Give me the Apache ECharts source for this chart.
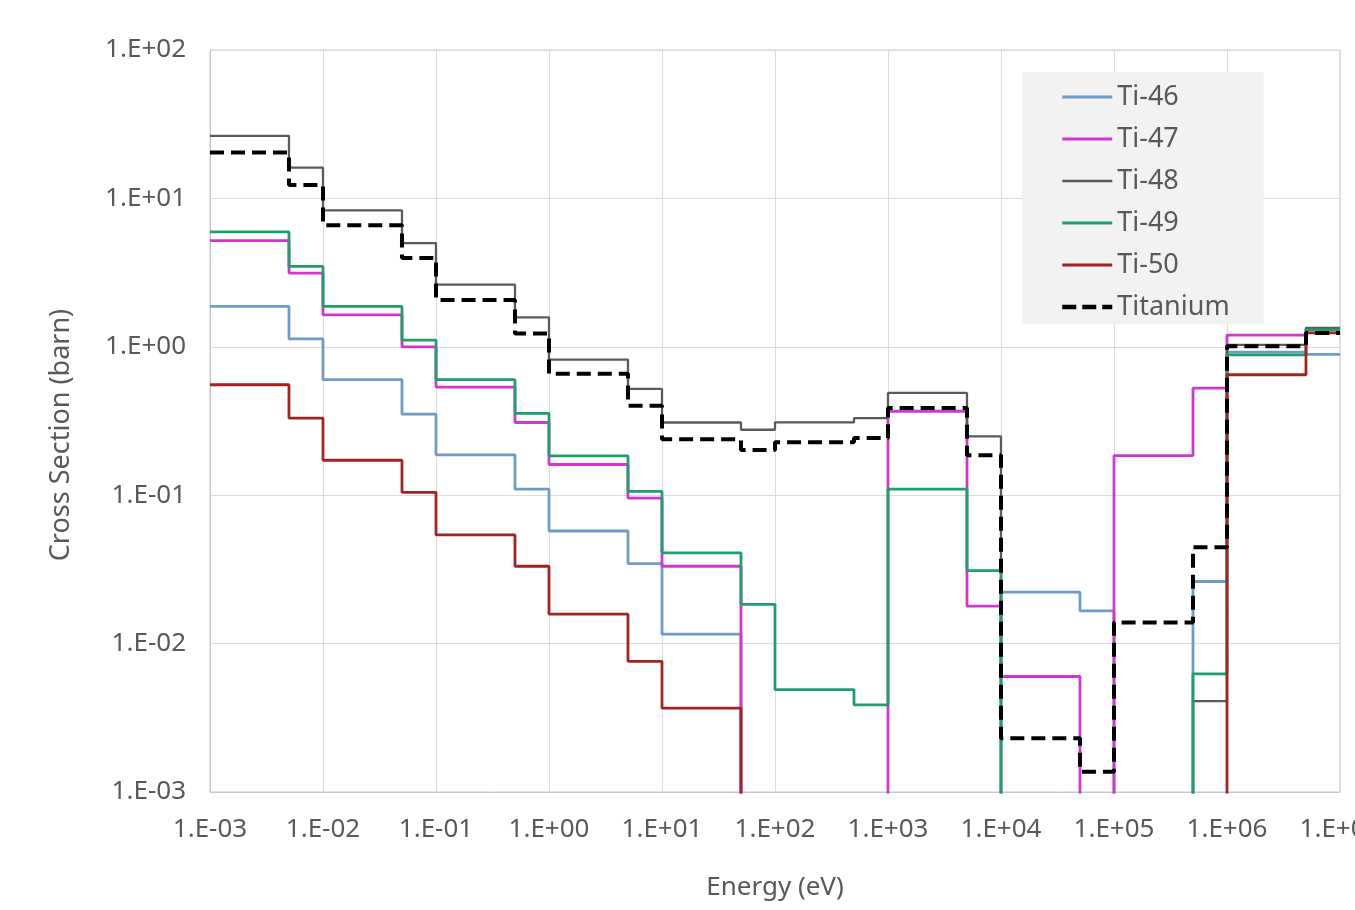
<!DOCTYPE html>
<html>
<head>
<meta charset="utf-8">
<script src="https://cdn.jsdelivr.net/npm/echarts@6/dist/echarts.min.js"></script>
<style>
  html, body { margin: 0; padding: 0; background: #ffffff; }
  #chart { width: 1355px; height: 910px; }
</style>
</head>
<body>
<div id="chart"></div>
<script>
// Energy group boundaries (eV), 20 groups
const energyEdges = [1e-3, 5e-3, 1e-2, 5e-2, 1e-1, 5e-1, 1, 5, 10, 50, 100, 500, 1e3, 5e3, 1e4, 5e4, 1e5, 5e5, 1e6, 5e6, 1e7];

// Group cross sections (barn); 1e-5 marks values below the plotted range
const ti46 = [1.87, 1.13, 0.60, 0.352, 0.187, 0.110, 0.0574, 0.0346, 0.0116, 1e-5, 1e-5, 1e-5, 1e-5, 1e-5, 0.0222, 0.0166, 1e-5, 0.0262, 0.92, 0.89];
const ti47 = [5.2, 3.14, 1.64, 1.0, 0.535, 0.309, 0.161, 0.0957, 0.0332, 1e-5, 1e-5, 1e-5, 0.368, 0.0179, 0.0060, 1e-5, 0.185, 0.526, 1.20, 1.32];
const ti48 = [26.4, 16.1, 8.3, 5.0, 2.62, 1.58, 0.82, 0.52, 0.309, 0.276, 0.31, 0.331, 0.489, 0.249, 1e-5, 1e-5, 1e-5, 0.0041, 1.03, 1.34];
const ti49 = [5.94, 3.48, 1.87, 1.11, 0.60, 0.356, 0.184, 0.106, 0.0409, 0.0184, 0.0049, 0.00387, 0.110, 0.031, 1e-5, 1e-5, 1e-5, 0.00625, 0.883, 1.3];
const ti50 = [0.555, 0.331, 0.172, 0.1045, 0.054, 0.0332, 0.0158, 0.0076, 0.00367, 1e-5, 1e-5, 1e-5, 1e-5, 1e-5, 1e-5, 1e-5, 1e-5, 1e-5, 0.648, 1.24];
const titanium = [20.4, 12.3, 6.6, 3.96, 2.07, 1.23, 0.659, 0.40, 0.238, 0.202, 0.227, 0.243, 0.387, 0.186, 0.0023, 0.00137, 0.0139, 0.0446, 1.01, 1.24];

const seriesNames = ['Ti-46', 'Ti-47', 'Ti-48', 'Ti-49', 'Ti-50', 'Titanium'];
const xTickLabels = ['1.E-03', '1.E-02', '1.E-01', '1.E+00', '1.E+01', '1.E+02', '1.E+03', '1.E+04', '1.E+05', '1.E+06', '1.E+07'];
const yTickLabels = ['1.E-03', '1.E-02', '1.E-01', '1.E+00', '1.E+01', '1.E+02'];

const FONT = '"Noto Sans", "Open Sans", sans-serif';
const TXT = '#595959';

function stepData(vals) {
  const d = vals.map((v, i) => [energyEdges[i], v]);
  d.push([energyEdges[energyEdges.length - 1], vals[vals.length - 1]]);
  return d;
}

const styles = [
  { color: '#6f9cc4', width: 2.8, type: 'solid', legendWidth: 3.2, legendType: 'solid' },
  { color: '#d236d2', width: 2.8, type: 'solid', legendWidth: 3.2, legendType: 'solid' },
  { color: '#5a5a5a', width: 2.3, type: 'solid', legendWidth: 2.4, legendType: 'solid' },
  { color: '#1f9e6c', width: 2.8, type: 'solid', legendWidth: 3.2, legendType: 'solid' },
  { color: '#a32222', width: 2.8, type: 'solid', legendWidth: 3.2, legendType: 'solid' },
  { color: '#000000', width: 4, type: [14, 7], legendWidth: 4.5, legendType: [14, 6] }
];
const allVals = [ti46, ti47, ti48, ti49, ti50, titanium];

const chart = echarts.init(document.getElementById('chart'), null, { renderer: 'canvas' });
chart.setOption({
  animation: false,
  backgroundColor: '#ffffff',
  textStyle: { fontFamily: FONT },
  grid: { left: 210, right: 15, top: 50, bottom: 118, show: true, borderColor: '#c8c8c8', borderWidth: 1,
          containLabel: false, outerBoundsMode: 'none' },
  legend: {
    orient: 'vertical',
    left: 1022, top: 72,
    backgroundColor: '#f2f2f2',
    padding: [11, 34, 3, 38],
    itemWidth: 50, itemHeight: 14, itemGap: 14,
    itemStyle: { opacity: 0 },
    textStyle: { fontSize: 27, color: TXT, fontFamily: FONT, lineHeight: 28 },
    data: seriesNames.map((name, i) => ({
      name,
      lineStyle: { width: styles[i].legendWidth, type: styles[i].legendType, color: styles[i].color }
    }))
  },
  xAxis: {
    type: 'log', logBase: 10, min: 1e-3, max: 1e7, interval: 1,
    name: 'Energy (eV)', nameLocation: 'middle', nameGap: 83,
    nameTextStyle: { fontSize: 26, color: TXT, fontFamily: FONT },
    axisLine: { show: true, lineStyle: { color: '#c8c8c8' } },
    axisTick: { show: false },
    axisLabel: { fontSize: 26, color: TXT, margin: 25, fontFamily: FONT,
      formatter: v => xTickLabels[Math.round(Math.log10(v)) + 3] },
    splitLine: { show: true, lineStyle: { color: '#dcdcdc', width: 1 } },
    minorTick: { show: false }, minorSplitLine: { show: false }
  },
  yAxis: {
    type: 'log', logBase: 10, min: 1e-3, max: 1e2, interval: 1,
    name: 'Cross Section (barn)', nameLocation: 'middle', nameGap: 135, nameRotate: 90,
    nameTextStyle: { fontSize: 27, color: TXT, fontFamily: FONT, padding: [0, 28, 0, 0] },
    axisLine: { show: true, lineStyle: { color: '#c8c8c8' } },
    axisTick: { show: false },
    axisLabel: { fontSize: 26, color: TXT, margin: 24, fontFamily: FONT,
      formatter: v => yTickLabels[Math.round(Math.log10(v)) + 3] },
    splitLine: { show: true, lineStyle: { color: '#dcdcdc', width: 1 } }
  },
  series: seriesNames.map((name, i) => ({
    name, type: 'line', step: 'end', symbol: 'none', showSymbol: false,
    clip: true,
    data: stepData(allVals[i]),
    lineStyle: { color: styles[i].color, width: styles[i].width, type: styles[i].type },
    itemStyle: { color: styles[i].color },
    z: 2 + i
  }))
});
</script>
</body>
</html>
